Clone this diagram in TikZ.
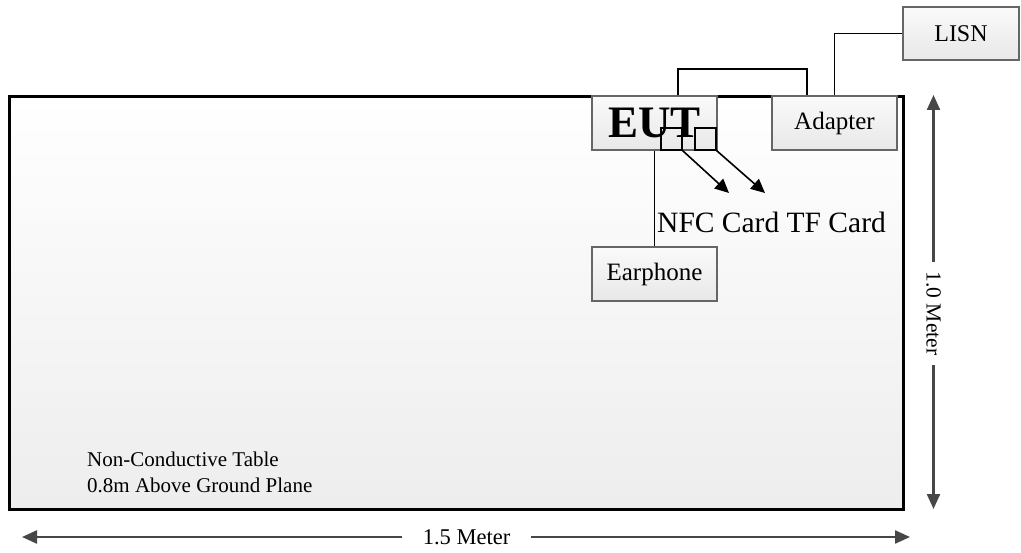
\documentclass[tikz,border=0pt]{standalone}
\usepackage{fontspec}
\setmainfont{Liberation Serif}
\usetikzlibrary{arrows.meta,positioning}

\begin{document}
\begin{tikzpicture}[
    x=1pt, y=-1pt,
    every node/.style={font=\fontsize{21}{26}\selectfont},
    tablebox/.style={
        rectangle,
        draw=black,
        line width=3pt,
        top color=white,
        bottom color=black!7,
        inner sep=0pt
    },
    unit/.style={
        rectangle,
        draw=black!60,
        line width=1.3pt,
        top color=black!2,
        bottom color=black!9,
        minimum width=125pt,
        minimum height=54pt,
        inner sep=0pt,
        font=\fontsize{25}{29}\selectfont
    },
    port/.style={
        rectangle,
        draw=black,
        line width=1.4pt,
        minimum width=21pt,
        minimum height=22pt,
        inner sep=0pt
    },
    wire/.style={line width=1.8pt, black},
    card/.style={-{Triangle[length=14pt,width=13pt]}, line width=1.6pt, black},
    dim/.style={{Triangle[length=15pt,width=13pt]}-{Triangle[length=15pt,width=13pt]},
        line width=2.3pt, black!72}
]
\useasboundingbox (0,0) rectangle (1021,553);

% ==================== Table ====================
\node[tablebox, minimum width=894pt, minimum height=413pt] (table) at (456,303) {};
\node[anchor=base west, align=left, inner sep=0pt] (tabletext) at (87,493)
  {Non-Conductive Table\\0.8m Above Ground Plane};

% ==================== Units ====================
\node[unit] (eut) at (654.5,123) {\fontsize{45}{48}\selectfont\bfseries EUT};
\node[unit] (adapter) at (834.5,123) {Adapter};
\node[unit, minimum width=116pt, minimum height=53pt, font=\fontsize{24}{28}\selectfont] (lisn) at (961,33.5) {LISN};
\node[unit] (earphone) at (654.5,274) {Earphone};

% ports on the EUT
\node[port] (nfcport) at (671.5,139) {};
\node[port] (tfport) at (705.5,139) {};

% ==================== Wiring ====================
\draw[wire] ([xshift=23.5pt]eut.north) -- ++(0,-26) -| ([xshift=-27.5pt]adapter.north);
\draw[wire] (adapter.north) |- (lisn.west);
\draw[wire] (eut.south) -- (earphone.north);

% cards
\coordinate (nfcend) at (729,193);
\coordinate (tfend) at (765,193);
\draw[card] (nfcport.south east) -- (nfcend);
\draw[card] (tfport.south east) -- (tfend);
\node[anchor=base west, inner sep=0pt, font=\fontsize{29.5}{33}\selectfont] (cards) at (657,233)
  {NFC Card TF Card};

% ==================== Dimensions ====================
\coordinate (vtop) at (933.5,95);
\coordinate (vbot) at (933.5,509);
\draw[dim] (vtop) -- (vbot);
\node[fill=white, rotate=-90, inner xsep=10pt, inner ysep=2pt, font=\fontsize{21.5}{26}\selectfont] (height) at (933.5,313.5) {1.0 Meter};

\coordinate (hleft) at (22,537);
\coordinate (hright) at (910,537);
\draw[dim] (hleft) -- (hright);
\node[fill=white, inner xsep=21pt, inner ysep=2pt, font=\fontsize{22.5}{26}\selectfont] (width) at (466.5,537) {1.5 Meter};

\end{tikzpicture}
\end{document}
